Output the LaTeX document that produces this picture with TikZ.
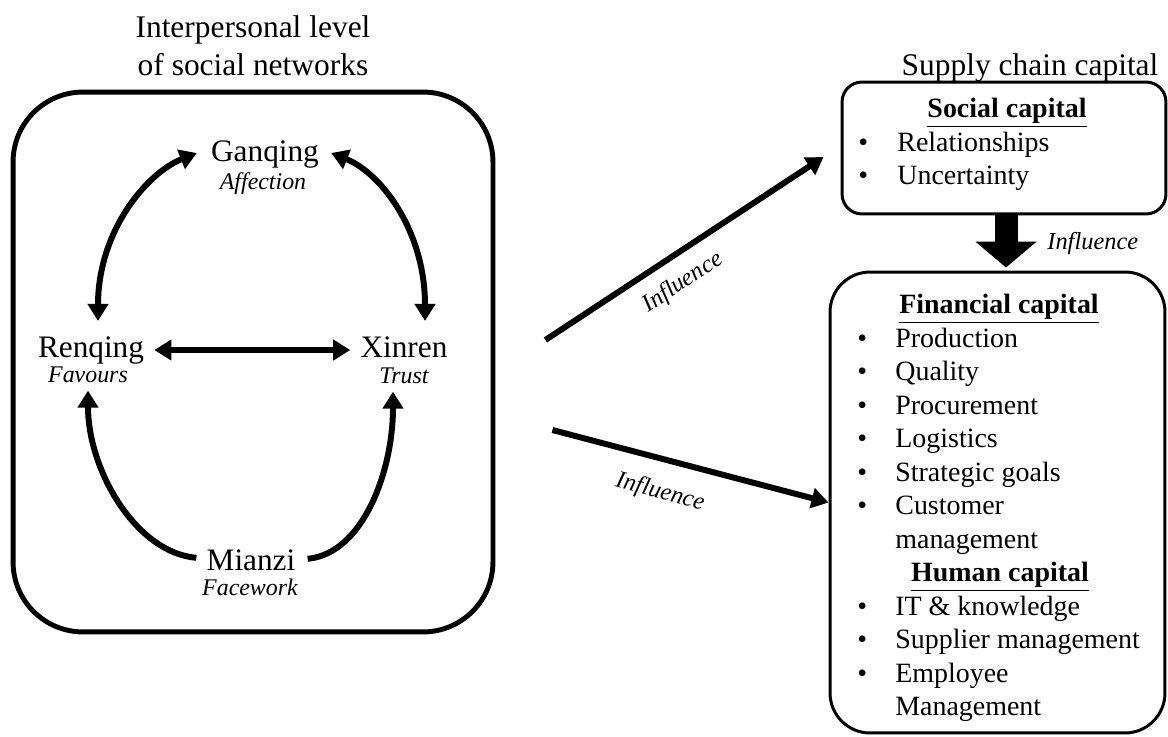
\documentclass[tikz,border=0pt]{standalone}
\usepackage{fontspec}
\setmainfont{Liberation Serif}
\usetikzlibrary{arrows.meta,calc}
\newcommand\fTitle{\fontsize{17.9pt}{21pt}\selectfont}
\newcommand\fNode{\fontsize{17.8pt}{21pt}\selectfont}
\newcommand\fSub{\fontsize{13.6pt}{16pt}\selectfont\itshape}
\newcommand\fItem{\fontsize{15.9pt}{19pt}\selectfont}
\newcommand\fInf{\fontsize{13.9pt}{16pt}\selectfont\itshape}
\begin{document}
\begin{tikzpicture}[x=0.02cm,y=-0.02cm,
  lbl/.style={inner sep=0pt, anchor=base},
  item/.style={inner sep=0pt, anchor=base west, font=\fItem},
  head/.style={inner sep=0pt, anchor=base, font=\fItem\bfseries},
  tie/.style={line width=3.4pt, {Triangle[length=0.34cm,width=0.4cm]}-{Triangle[length=0.34cm,width=0.4cm]}},
  oneway/.style={line width=3.4pt, -{Triangle[length=0.34cm,width=0.4cm]}},
  panel/.style={draw, line width=1.7pt, inner sep=0pt}]
\useasboundingbox (0,0) rectangle (1168,736);

% titles
\node[lbl, font=\fTitle] (t1) at (253,38) {Interpersonal level};
\node[lbl, font=\fTitle] (t2) at (253,76) {of social networks};
\node[lbl, font=\fTitle] (t3) at (1030,76) {Supply chain capital};

% left panel: the four concepts
\node[draw, line width=2.8pt, rounded corners=1.4cm, minimum width=9.6cm, minimum height=10.8cm, inner sep=0pt] (net) at (253,362) {};

\node[lbl, font=\fNode] (gan) at (265,162) {Ganqing};
\node[lbl, font=\fSub] (aff) at (263,190) {Affection};
\node[lbl, font=\fNode] (ren) at (91,357) {Renqing};
\node[lbl, font=\fSub] (fav) at (88,382) {Favours};
\node[lbl, font=\fNode] (xin) at (404,357) {Xinren};
\node[lbl, font=\fSub] (tru) at (404,383) {Trust};
\node[lbl, font=\fNode] (mia) at (251,570) {Mianzi};
\node[lbl, font=\fSub] (fac) at (250,595) {Facework};

\draw[tie] ($(ren.north)+(7,-15)$) .. controls +(0,-90) and +(-50,20) .. ($(gan.west)+(-14,-2)$);
\draw[tie] ($(gan.east)+(12,-2)$) .. controls +(50,20) and +(0,-90) .. ($(xin.north)+(21,-15)$);
\draw[tie] ($(ren.east)+(10,0)$) -- ($(xin.west |- ren.east)+(-10,0)$);
\draw[oneway] ($(mia.west)+(-10,-2)$) .. controls +(-60,-5) and +(0,80) .. ($(fav.south)+(0,8)$);
\draw[oneway] ($(mia.east)+(12,-1)$) .. controls +(55,-5) and +(0,80) .. ($(tru.south)+(-11,8)$);

% right side: capital boxes
\node[panel, rounded corners=0.4cm, minimum width=6.48cm, minimum height=2.64cm] (soc) at (1004,148) {};
\node[panel, rounded corners=0.8cm, minimum width=6.7cm, minimum height=9.22cm] (fin) at (997.5,502.5) {};

\node[head] (sh) at (1007,118) {\underline{Social capital}};
\node[item] (s1) at (897,151.5) {Relationships};
\node[item] (s2) at (897,185) {Uncertainty};
\foreach \y in {151.5,185} \node[item] at (858,\y) {\textbullet};

\node[head] (fh) at (999,313.5) {\underline{Financial capital}};
\node[item] (f1) at (895,347) {Production};
\node[item] (f2) at (895,380.5) {Quality};
\node[item] (f3) at (895,414) {Procurement};
\node[item] (f4) at (895,447.5) {Logistics};
\node[item] (f5) at (895,481) {Strategic goals};
\node[item] (f6) at (895,514.5) {Customer};
\node[item] (f6b) at (895,548) {management};
\node[head] (hh) at (1000,581.5) {\underline{Human capital}};
\node[item] (h1) at (895,615) {IT \& knowledge};
\node[item] (h2) at (895,648.5) {Supplier management};
\node[item] (h3) at (895,682) {Employee};
\node[item] (h3b) at (895,715.5) {Management};
\foreach \y in {347,380.5,414,447.5,481,514.5,615,648.5,682} \node[item] at (857,\y) {\textbullet};

% influence arrows
\draw[oneway] ($(net.east)+(50,-22)$) -- ($(soc.west)+(-17,9)$)
  node[sloped, below=0.27cm, pos=0.44, inner sep=0pt, font=\fInf] {Influence};
\draw[oneway] ($(net.east)+(57,68)$) -- (fin.west)
  node[sloped, below=0.38cm, pos=0.42, inner sep=0pt, font=\fInf] {Influence};

\draw[line width=0.46cm, -{Triangle[length=0.52cm,width=1.2cm]}] ($(soc.south)+(2,0)$) -- ($(soc.south |- fin.north)+(2,-3)$);
\node[inner sep=0pt, anchor=base west, font=\fInf] (bi) at (1047,250) {Influence};
\end{tikzpicture}
\end{document}
